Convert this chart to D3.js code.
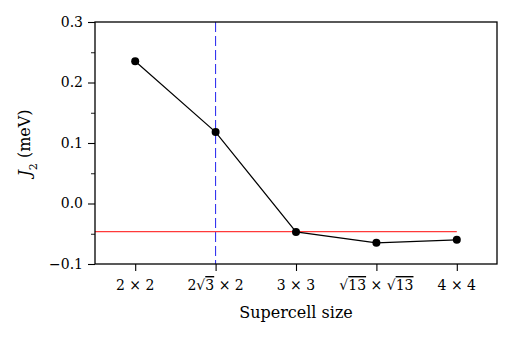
<!DOCTYPE html>
<html><head><meta charset="utf-8">
<script src="https://cdn.jsdelivr.net/npm/d3@7"></script>
<style>body{margin:0;background:#fff}svg{display:block}text{font-family:"DejaVu Serif",serif;fill:#000}</style>
</head><body>
<svg id="c" width="520" height="338"></svg>
<script>
// Data
const categories = ["2x2", "2r3x2", "3x3", "r13xr13", "4x4"];
const j2Values = [0.235, 0.118, -0.047, -0.065, -0.060];
const referenceValue = -0.0465;
const dashedCategoryIndex = 1;
const yTicks = [-0.1, 0.0, 0.1, 0.2, 0.3];
const yMinorTicks = [-0.05, 0.05, 0.15, 0.25];

const svg = d3.select("#c");
const m = {l: 95, r: 23, t: 22, b: 74};
const W = 520, H = 338;
const x = d3.scaleLinear().domain([-0.5, categories.length - 0.5]).range([m.l, W - m.r]);
const y = d3.scaleLinear().domain([-0.1, 0.3]).range([H - m.b, m.t]);

// vertical dashed line
svg.append("line")
  .attr("x1", x(dashedCategoryIndex)).attr("x2", x(dashedCategoryIndex))
  .attr("y1", y(0.3)).attr("y2", y(-0.1))
  .attr("stroke", "#2222ee").attr("stroke-width", 1).attr("stroke-dasharray", "10,4");

// reference line
svg.append("line")
  .attr("x1", x(-0.5)).attr("x2", x(categories.length - 1))
  .attr("y1", y(referenceValue)).attr("y2", y(referenceValue))
  .attr("stroke", "#ff3a3a").attr("stroke-width", 1.1);

// data line
const line = d3.line().x((d, i) => x(i)).y(d => y(d));
svg.append("path").datum(j2Values).attr("d", line)
  .attr("fill", "none").attr("stroke", "#000").attr("stroke-width", 1.2);
svg.selectAll("circle.pt").data(j2Values).enter().append("circle")
  .attr("cx", (d, i) => x(i)).attr("cy", d => y(d)).attr("r", 4).attr("fill", "#000");

// axes
const yAxis = d3.axisLeft(y).tickValues(yTicks).tickFormat(d3.format(".1f")).tickSize(7).tickPadding(5);
const gy = svg.append("g").attr("transform", `translate(${m.l},0)`).call(yAxis);
gy.select(".domain").remove();
gy.selectAll("text").style("font-size", "14px").text(d => d < 0 ? "\u2212" + Math.abs(d).toFixed(1) : d.toFixed(1));
gy.selectAll("line").attr("stroke-width", 1.1);
const gym = svg.append("g").attr("transform", `translate(${m.l},0)`)
  .call(d3.axisLeft(y).tickValues(yMinorTicks).tickSize(4).tickFormat(""));
gym.select(".domain").remove();
gym.selectAll("line").attr("stroke-width", 0.9);

const xAxis = d3.axisBottom(x).tickValues(d3.range(categories.length)).tickSize(7).tickPadding(7).tickFormat("");
const gx = svg.append("g").attr("transform", `translate(0,${H - m.b})`).call(xAxis);
gx.select(".domain").remove();
gx.selectAll("line").attr("stroke-width", 1.1);

// x tick labels with math
const labY = H - m.b + 26;
function addLabel(i, parts) {
  const t = svg.append("text").attr("x", x(i)).attr("y", labY)
    .attr("text-anchor", "middle").style("font-size", "14px");
  parts.forEach(p => {
    const ts = t.append("tspan").text(p.t);
    if (p.over) ts.style("text-decoration", "overline");
  });
}
addLabel(0, [{t: "2 \u00d7 2"}]);
addLabel(1, [{t: "2\u221a"}, {t: "3", over: true}, {t: " \u00d7 2"}]);
addLabel(2, [{t: "3 \u00d7 3"}]);
addLabel(3, [{t: "\u221a"}, {t: "13", over: true}, {t: " \u00d7 \u221a"}, {t: "13", over: true}]);
addLabel(4, [{t: "4 \u00d7 4"}]);

// frame
svg.append("rect").attr("x", m.l).attr("y", m.t).attr("width", W - m.r - m.l).attr("height", H - m.b - m.t)
  .attr("fill", "none").attr("stroke", "#000").attr("stroke-width", 1.3);

// axis labels
svg.append("text").attr("x", (m.l + W - m.r) / 2).attr("y", H - 20)
  .attr("text-anchor", "middle").style("font-size", "16px").text("Supercell size");
const yl = svg.append("text").attr("transform", `translate(30,${(m.t + H - m.b) / 2}) rotate(-90)`)
  .attr("text-anchor", "middle").style("font-size", "16px");
yl.append("tspan").style("font-style", "italic").text("J");
yl.append("tspan").attr("baseline-shift", "sub").style("font-size", "11px").text("2");
yl.append("tspan").text(" (meV)");
</script>
</body></html>
